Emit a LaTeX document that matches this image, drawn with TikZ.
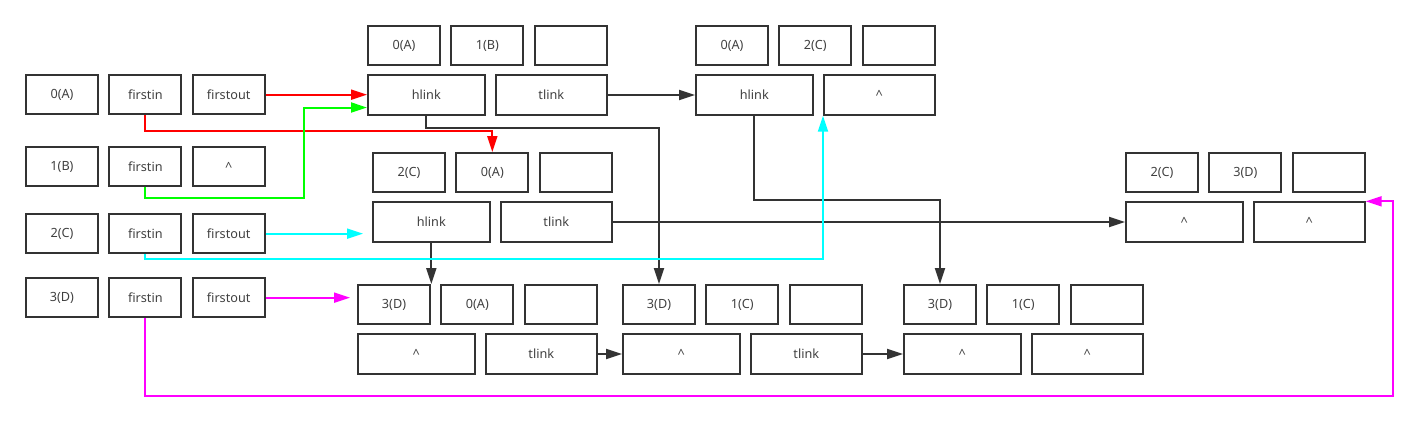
\documentclass[tikz,border=0pt]{standalone}
\usepackage{fontspec}
\setmainfont{Noto Sans}
\usepackage{xcolor}
\usetikzlibrary{positioning, arrows.meta, calc}

\definecolor{boxline}{HTML}{333333}
\definecolor{txt}{HTML}{404040}
\definecolor{linkred}{HTML}{FF0000}
\definecolor{linkgreen}{HTML}{00FF00}
\definecolor{linkcyan}{HTML}{00FFFF}
\definecolor{linkmagenta}{HTML}{FF00FF}

\begin{document}
\begin{tikzpicture}[x=0.75pt, y=-0.75pt, % one unit is one pixel of the sketch
  >={Triangle[length=12pt, width=7.5pt]}, % filled arrow heads
  node distance=7pt, % gap between the boxes of one row
  cell/.style={draw=boxline, line width=1.5pt, minimum width=54pt,
    minimum height=29.5pt, inner sep=0pt, text=txt,
    font=\fontsize{9.5}{11}\selectfont},
  wide/.style={cell, minimum width=87.5pt}, % hlink box
  tail/.style={cell, minimum width=83pt}, % tlink box
  link/.style={->, line width=1.5pt, draw=boxline},
]
    \useasboundingbox (0,0) rectangle (1417,421);

    % vertex list
    \node[cell, anchor=north west] (v0) at (25,74) {0(A)};
    \node[cell, right=of v0] (v0in) {firstin};
    \node[cell, right=of v0in] (v0out) {firstout};
    \node[cell, anchor=north west] (v1) at (25,146) {1(B)};
    \node[cell, right=of v1] (v1in) {firstin};
    \node[cell, right=of v1in] (v1out) {\textasciicircum};
    \node[cell, anchor=north west] (v2) at (25,213) {2(C)};
    \node[cell, right=of v2] (v2in) {firstin};
    \node[cell, right=of v2in] (v2out) {firstout};
    \node[cell, anchor=north west] (v3) at (25,277) {3(D)};
    \node[cell, right=of v3] (v3in) {firstin};
    \node[cell, right=of v3in] (v3out) {firstout};

    % arc 0 -> 1
    \node[cell, anchor=north west] (e1a) at (367,25) {0(A)};
    \node[cell, right=of e1a] (e1b) {1(B)};
    \node[cell, right=of e1b] (e1c) {};
    \node[wide, below=6pt of e1a.south west, anchor=north west] (e1h) {hlink};
    \node[tail, right=of e1h] (e1t) {tlink};

    % arc 0 -> 2
    \node[cell, anchor=north west] (e2a) at (695,25) {0(A)};
    \node[cell, right=of e2a] (e2b) {2(C)};
    \node[cell, right=of e2b] (e2c) {};
    \node[wide, below=6pt of e2a.south west, anchor=north west] (e2h) {hlink};
    \node[tail, right=of e2h] (e2t) {\textasciicircum};

    % arc 2 -> 0
    \node[cell, anchor=north west] (e3a) at (372,152) {2(C)};
    \node[cell, right=of e3a] (e3b) {0(A)};
    \node[cell, right=of e3b] (e3c) {};
    \node[wide, below=6pt of e3a.south west, anchor=north west] (e3h) {hlink};
    \node[tail, right=of e3h] (e3t) {tlink};

    % arc 2 -> 3
    \node[cell, anchor=north west] (e4a) at (1125,152) {2(C)};
    \node[cell, right=of e4a] (e4b) {3(D)};
    \node[cell, right=of e4b] (e4c) {};
    \node[wide, below=6pt of e4a.south west, anchor=north west] (e4h) {\textasciicircum};
    \node[tail, right=of e4h] (e4t) {\textasciicircum};

    % arcs out of 3
    \node[cell, anchor=north west] (e5a) at (357,284) {3(D)};
    \node[cell, right=of e5a] (e5b) {0(A)};
    \node[cell, right=of e5b] (e5c) {};
    \node[wide, below=6pt of e5a.south west, anchor=north west] (e5h) {\textasciicircum};
    \node[tail, right=of e5h] (e5t) {tlink};

    \node[cell, anchor=north west] (e6a) at (622,284) {3(D)};
    \node[cell, right=of e6a] (e6b) {1(C)};
    \node[cell, right=of e6b] (e6c) {};
    \node[wide, below=6pt of e6a.south west, anchor=north west] (e6h) {\textasciicircum};
    \node[tail, right=of e6h] (e6t) {tlink};

    \node[cell, anchor=north west] (e7a) at (903,284) {3(D)};
    \node[cell, right=of e7a] (e7b) {1(C)};
    \node[cell, right=of e7b] (e7c) {};
    \node[wide, below=6pt of e7a.south west, anchor=north west] (e7h) {\textasciicircum};
    \node[tail, right=of e7h] (e7t) {\textasciicircum};

    % links between arcs
    \draw[link] (e1t.east) -- (e1t.east -| e2h.west);
    \draw[link] (e1h.south) -- ++(0,12) -| (e6a.north);
    \draw[link] (e2h.south) -- ++(0,84) -| (e7a.north);
    \draw[link] (e3t.east) -- (e3t.east -| e4h.west);
    \draw[link] (e3h.south) -- (e3h.south |- e5a.north);
    \draw[link] (e5t.east) -- (e5t.east -| e6h.west);
    \draw[link] (e6t.east) -- (e6t.east -| e7h.west);

    % links from the vertices
    \draw[link, draw=linkred] (v0out.east) -- (v0out.east -| e1h.west);
    \draw[link, draw=linkred] (v0in.south) -- ++(0,16) -| (e3b.north);
    \draw[link, draw=linkgreen] (v1in.south) -- ++(0,11) -- ++(159,0)
        |- ([yshift=-9.4pt]e1h.west);
    \draw[link, draw=linkcyan] (v2out.east) -- ($(e3h.west |- v2out.east)+(-9,0)$);
    \draw[link, draw=linkcyan] (v2in.south) -- ++(0,5) -| (e2t.south west);
    \draw[link, draw=linkmagenta] (v3out.east) -- ($(e5a.west |- v3out.east)+(-7,0)$);
    \draw[link, draw=linkmagenta] (v3in.south) -- ++(0,78) -- ++(1248,0)
        |- (e4t.north east);
\end{tikzpicture}
\end{document}
